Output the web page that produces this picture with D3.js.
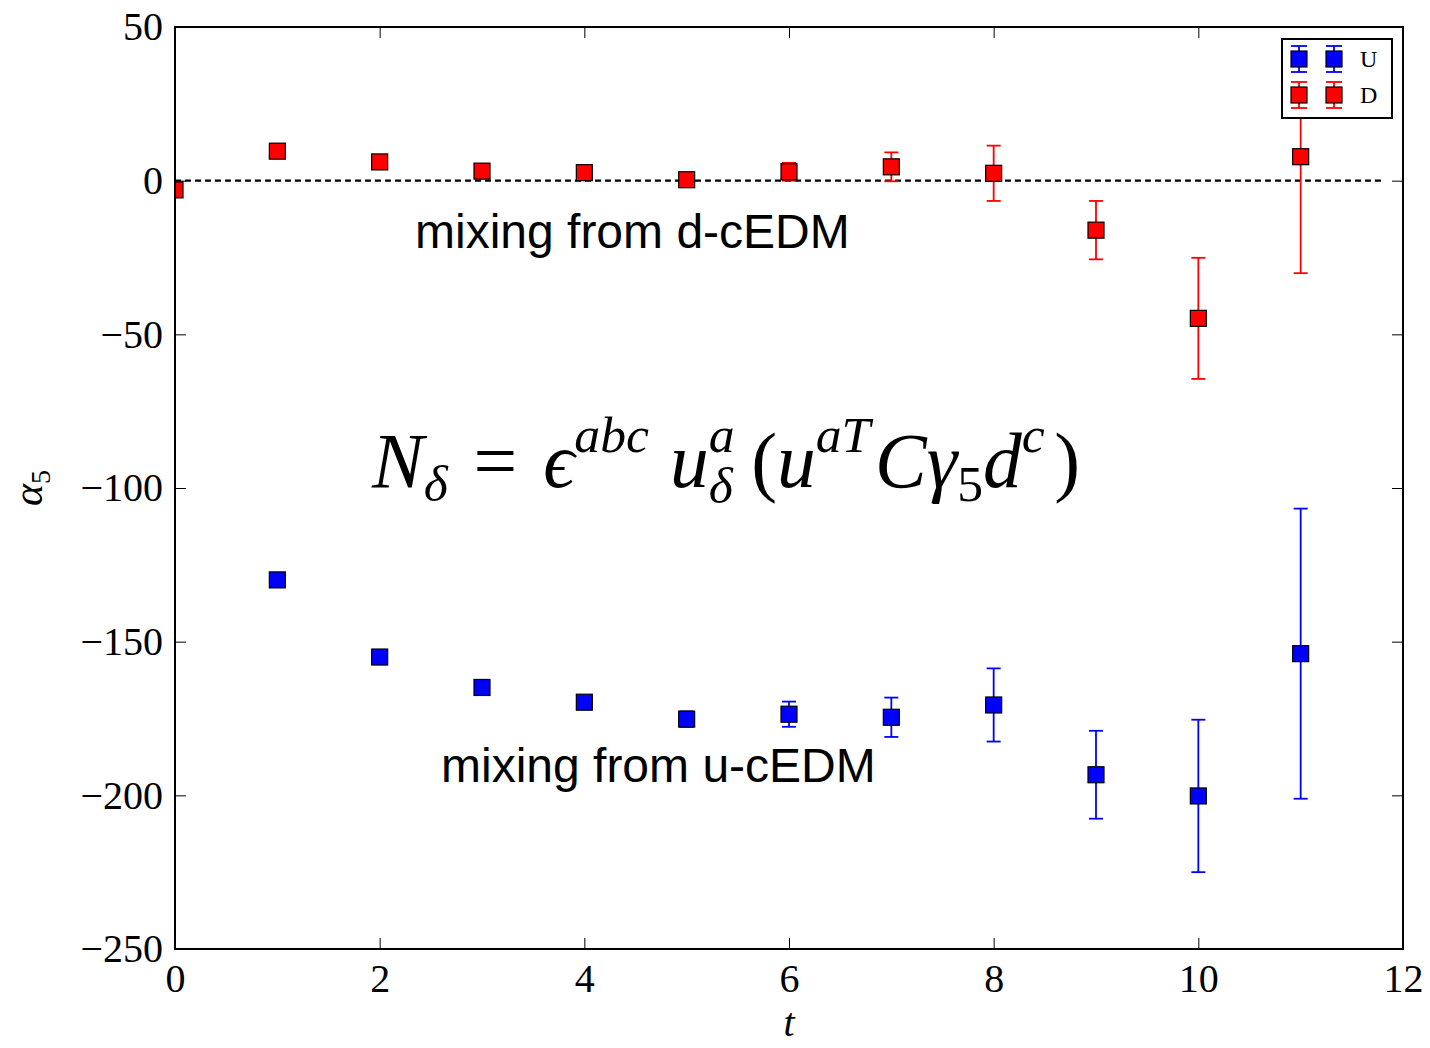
<!DOCTYPE html>
<html>
<head>
<meta charset="utf-8">
<script src="https://cdn.jsdelivr.net/npm/d3@7"></script>
<style>
  html, body { margin: 0; padding: 0; background: #fff; }
  svg { display: block; }
</style>
</head>
<body>
<svg id="chart" width="1430" height="1048"></svg>
<script>
// Time slices and fitted alpha_5 values with their errors
const tD = [0, 1, 2, 3, 4, 5, 6, 7, 8, 9, 10, 11];
const dMean = [-3.0, 9.6, 6.1, 3.1, 2.6, 0.3, 2.9, 4.5, 2.4, -16.1, -44.8, 7.8];
const dErr  = [0.8, 0.6, 0.6, 0.6, 0.8, 1.0, 2.9, 4.7, 9.0, 9.5, 19.7, 37.9];

const tU = [1, 2, 3, 4, 5, 6, 7, 8, 9, 10, 11];
const uMean = [-129.9, -155.0, -164.9, -169.7, -175.2, -173.6, -174.6, -170.6, -193.3, -200.2, -153.9];
const uErr  = [0.8, 0.8, 0.8, 1.2, 2.5, 4.1, 6.4, 11.9, 14.3, 24.8, 47.2];

const xTicks = [0, 2, 4, 6, 8, 10, 12];
const yTicks = [50, 0, -50, -100, -150, -200, -250];
const zeroLineRange = [0, 11.8];

const seriesInfo = [
  { name: "U", color: "#0000ff", t: tU, mean: uMean, err: uErr },
  { name: "D", color: "#ff0000", t: tD, mean: dMean, err: dErr }
];

const svg = d3.select("#chart");
const pLeft = 175, pRight = 1403, pTop = 27, pBottom = 949;
const x = d3.scaleLinear().domain([0, 12]).range([pLeft, pRight]);
const y = d3.scaleLinear().domain([-250, 50]).range([pBottom, pTop]);

const serif = "'Liberation Serif', 'DejaVu Serif', serif";
const sans = "'Liberation Sans', Arial, sans-serif";
const minus = s => s.replace("-", "\u2212");

svg.append("defs").append("clipPath").attr("id", "plotClip")
  .append("rect").attr("x", pLeft).attr("y", pTop)
  .attr("width", pRight - pLeft).attr("height", pBottom - pTop);

// Axes with inward ticks on all four sides
function styleAxis(g, showLabels) {
  g.select(".domain").remove();
  g.selectAll(".tick line").attr("stroke", "#000").attr("stroke-width", 1);
  g.selectAll(".tick text").attr("font-family", serif).attr("font-size", 40).attr("fill", "#000");
  if (!showLabels) g.selectAll(".tick text").remove();
}
svg.append("g").attr("transform", `translate(0,${pBottom})`)
  .call(d3.axisBottom(x).tickValues(xTicks).tickSize(-11).tickPadding(15).tickFormat(d3.format("d")))
  .call(g => styleAxis(g, true));
svg.append("g").attr("transform", `translate(0,${pTop})`)
  .call(d3.axisTop(x).tickValues(xTicks).tickSize(-11))
  .call(g => styleAxis(g, false));
svg.append("g").attr("transform", `translate(${pLeft},0)`)
  .call(d3.axisLeft(y).tickValues(yTicks).tickSize(-11).tickPadding(12).tickFormat(d => minus(String(d))))
  .call(g => styleAxis(g, true));
svg.append("g").attr("transform", `translate(${pRight},0)`)
  .call(d3.axisRight(y).tickValues(yTicks).tickSize(-11))
  .call(g => styleAxis(g, false));

// Zero reference line
svg.append("line")
  .attr("x1", x(zeroLineRange[0])).attr("x2", x(zeroLineRange[1]))
  .attr("y1", y(0)).attr("y2", y(0))
  .attr("stroke", "#000").attr("stroke-width", 2.2).attr("stroke-dasharray", "6,4");

// Error bars and square markers
const plot = svg.append("g").attr("clip-path", "url(#plotClip)");
const cap = 7, half = 8;
seriesInfo.forEach(s => {
  const pts = s.t.map((t, i) => ({ t, m: s.mean[i], e: s.err[i] }));
  const g = plot.append("g");
  const eb = g.selectAll("g.eb").data(pts).enter().append("g").attr("class", "eb")
    .attr("stroke", s.color).attr("stroke-width", 1.8);
  eb.append("line").attr("x1", d => x(d.t)).attr("x2", d => x(d.t))
    .attr("y1", d => y(d.m + d.e)).attr("y2", d => y(d.m - d.e));
  eb.append("line").attr("x1", d => x(d.t) - cap).attr("x2", d => x(d.t) + cap)
    .attr("y1", d => y(d.m + d.e)).attr("y2", d => y(d.m + d.e));
  eb.append("line").attr("x1", d => x(d.t) - cap).attr("x2", d => x(d.t) + cap)
    .attr("y1", d => y(d.m - d.e)).attr("y2", d => y(d.m - d.e));
  g.selectAll("rect").data(pts).enter().append("rect")
    .attr("x", d => x(d.t) - half).attr("y", d => y(d.m) - half)
    .attr("width", 2 * half).attr("height", 2 * half)
    .attr("fill", s.color).attr("stroke", "#000").attr("stroke-width", 1.2);
});

// Frame
svg.append("rect").attr("x", pLeft).attr("y", pTop)
  .attr("width", pRight - pLeft).attr("height", pBottom - pTop)
  .attr("fill", "none").attr("stroke", "#000").attr("stroke-width", 2);

// Annotations
svg.append("text").attr("x", 415).attr("y", 248)
  .attr("font-family", sans).attr("font-size", 48).attr("fill", "#000")
  .text("mixing from d-cEDM");
svg.append("text").attr("x", 441).attr("y", 782)
  .attr("font-family", sans).attr("font-size", 48).attr("fill", "#000")
  .text("mixing from u-cEDM");

// Interpolating operator formula: one text element, each piece a positioned tspan
(function drawFormula() {
  const fs = 66, small = 44;
  const pieces = [
    { t: "N", s: fs, it: true },
    { t: "\u03B4", s: small, it: true, dy: 12 },
    { t: "=", s: fs, gap: 22, after: 22 },
    { t: "\u03F5", s: fs, it: true },
    { t: "abc", s: small, it: true, dy: -30 },
    { t: "u", s: fs, it: true, gap: 18 },
    { t: "a", s: small, it: true, dy: -30, stackStart: true },
    { t: "\u03B4", s: small, it: true, dy: 14, stackEnd: true },
    { t: "(", s: fs, gap: 14 },
    { t: "u", s: fs, it: true },
    { t: "aT", s: small, it: true, dy: -30 },
    { t: "C", s: fs, it: true, gap: 4 },
    { t: "\u03B3", s: fs, it: true },
    { t: "5", s: small, dy: 12 },
    { t: "d", s: fs, it: true },
    { t: "c", s: small, it: true, dy: -30 },
    { t: ")", s: fs, gap: 8 }
  ];
  const g = svg.append("g");
  const txt = g.append("text").attr("font-family", serif).attr("fill", "#000");
  let cx = 0, stackX = 0, stackW = 0;
  pieces.forEach(p => {
    cx += p.gap || 0;
    const px = p.stackEnd ? stackX : cx;
    const ts = txt.append("tspan").attr("x", px).attr("y", p.dy || 0)
      .attr("font-size", p.s).attr("font-style", p.it ? "italic" : "normal").text(p.t);
    const w = ts.node().getComputedTextLength();
    if (p.stackStart) { stackX = cx; stackW = w; }
    else if (p.stackEnd) { cx = stackX + Math.max(stackW, w); }
    else cx += w;
    cx += p.after || 0;
  });
  const k = (1080 - 372) / cx;
  g.attr("transform", `translate(372,487) scale(${k})`);
})();

// Axis titles
svg.append("text").attr("x", 789).attr("y", 1036).attr("text-anchor", "middle")
  .attr("font-family", serif).attr("font-style", "italic").attr("font-size", 40).text("t");
const yl = svg.append("text").attr("transform", "translate(42,488) rotate(-90)")
  .attr("text-anchor", "middle").attr("font-family", serif).attr("font-size", 42);
yl.append("tspan").attr("font-style", "italic").text("\u03B1");
yl.append("tspan").attr("font-size", 28).attr("dy", 8).text("5");

// Legend
const lg = svg.append("g");
lg.append("rect").attr("x", 1282).attr("y", 39).attr("width", 110).attr("height", 79)
  .attr("fill", "#fff").attr("stroke", "#000").attr("stroke-width", 2);
seriesInfo.forEach((s, i) => {
  const cy = 59 + i * 36;
  [1299, 1334].forEach(mx => {
    lg.append("line").attr("x1", mx).attr("x2", mx).attr("y1", cy - 13).attr("y2", cy + 13)
      .attr("stroke", s.color).attr("stroke-width", 1.8);
    [cy - 13, cy + 13].forEach(yy => lg.append("line").attr("x1", mx - 8).attr("x2", mx + 8)
      .attr("y1", yy).attr("y2", yy).attr("stroke", s.color).attr("stroke-width", 1.8));
    lg.append("rect").attr("x", mx - 8).attr("y", cy - 8).attr("width", 16).attr("height", 16)
      .attr("fill", s.color).attr("stroke", "#000").attr("stroke-width", 1.2);
  });
  lg.append("text").attr("x", 1360).attr("y", cy + 8).attr("font-family", serif)
    .attr("font-size", 24).attr("fill", "#000").text(s.name);
});
</script>
</body>
</html>
